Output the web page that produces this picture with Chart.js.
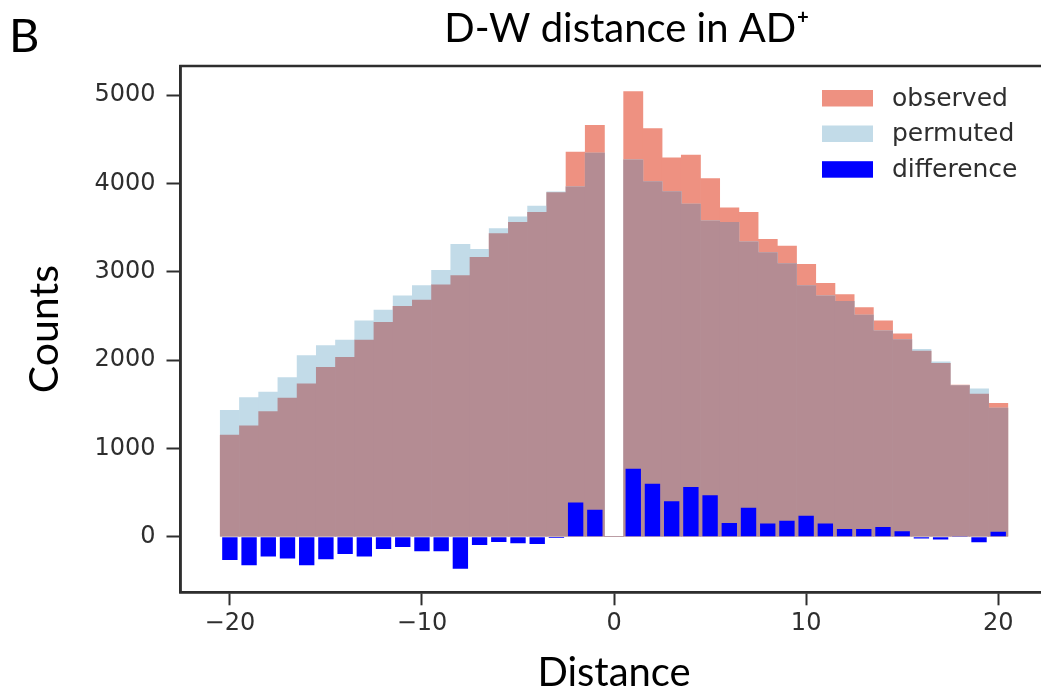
<!DOCTYPE html>
<html>
<head>
<meta charset="utf-8">
<script src="https://cdn.jsdelivr.net/npm/chart.js@4.4.1/dist/chart.umd.min.js"></script>
<style>
  html, body { margin: 0; padding: 0; background: #ffffff; overflow: hidden; }
  #wrap { width: 1041px; height: 694px; overflow: hidden; position: relative; }
  canvas { display: block; }
</style>
</head>
<body>
<div id="wrap"><canvas id="c" width="1050" height="694"></canvas></div>
<script>
// ---- data ----
const bins = [-20,-19,-18,-17,-16,-15,-14,-13,-12,-11,-10,-9,-8,-7,-6,-5,-4,-3,-2,-1,0,1,2,3,4,5,6,7,8,9,10,11,12,13,14,15,16,17,18,19,20];
const observed = [1150,1256,1416,1568,1732,1919,2032,2227,2426,2609,2679,2851,2956,3163,3432,3561,3674,3896,4356,4657,0,5039,4622,4290,4321,4056,3725,3674,3366,3292,3085,2870,2742,2594,2445,2297,2102,1962,1716,1615,1509];
const permuted = [1431,1576,1638,1802,2051,2165,2227,2445,2566,2726,2843,3015,3311,3253,3490,3623,3744,3904,3962,4345,0,4267,4021,3908,3767,3576,3561,3338,3218,3093,2843,2726,2664,2508,2332,2231,2122,1981,1711,1673,1455];
const difference = [-265,-324,-226,-246,-324,-257,-195,-226,-140,-117,-164,-164,-363,-94,-59,-74,-82,-16,386,304,0,768,600,402,562,468,156,328,148,179,238,148,86,86,109,62,-20,-31,8,-62,55];
const xTicks = [-20,-10,0,10,20];
const yTicks = [0,1000,2000,3000,4000,5000];
const seriesNames = ['observed','permuted','difference'];
const titleText = 'D-W distance in AD\u207A';
const panelLabel = 'B';

// ---- styles ----
const COL_OBS = '#EE9181';
const COL_PERM = '#C2DBE8';
const COL_OVER = '#B48C93';
const COL_DIFF = '#0000FF';
const AX = '#2e2e2e';

const overlap = observed.map((v, i) => Math.min(v, permuted[i]));
const pts = arr => bins.map((b, i) => ({ x: b, y: arr[i] }));

const fmt = v => (v < 0 ? '\u2212' + Math.abs(v) : String(v));

const framePlugin = {
  id: 'frame',
  afterDraw(chart) {
    const { ctx, chartArea: a } = chart;
    ctx.save();
    ctx.strokeStyle = AX;
    ctx.lineWidth = 2.5;
    ctx.strokeRect(a.left, a.top, a.right - a.left, a.bottom - a.top);
    ctx.restore();
  }
};

const extraTextPlugin = {
  id: 'extraText',
  afterDraw(chart) {
    const ctx = chart.ctx;
    ctx.save();
    ctx.textBaseline = 'alphabetic';
    // panel label
    ctx.fillStyle = '#000';
    ctx.font = '47px Lato';
    ctx.textAlign = 'left';
    ctx.fillText(panelLabel, 9, 52);
    // title
    ctx.font = '40px Lato';
    ctx.textAlign = 'center';
    ctx.fillText(titleText, 627, 41.5);
    // legend
    ctx.textAlign = 'left';
    const items = [
      { label: seriesNames[0], color: COL_OBS, cy: 98 },
      { label: seriesNames[1], color: COL_PERM, cy: 133.5 },
      { label: seriesNames[2], color: COL_DIFF, cy: 169.2 }
    ];
    ctx.font = '25px "DejaVu Sans"';
    items.forEach(it => {
      ctx.fillStyle = it.color;
      ctx.fillRect(822, it.cy - 8, 51, 16.5);
      ctx.fillStyle = AX;
      ctx.fillText(it.label, 892, it.cy + 7.5);
    });
    ctx.restore();
  }
};

new Chart(document.getElementById('c'), {
  type: 'bar',
  data: {
    datasets: [
      { label: seriesNames[0], data: pts(observed), backgroundColor: COL_OBS, order: 4, barPercentage: 1, categoryPercentage: 1 },
      { label: seriesNames[1], data: pts(permuted), backgroundColor: COL_PERM, order: 3, barPercentage: 1, categoryPercentage: 1 },
      { label: 'overlap', data: pts(overlap), backgroundColor: COL_OVER, order: 2, barPercentage: 1, categoryPercentage: 1 },
      { label: seriesNames[2], data: pts(difference), backgroundColor: COL_DIFF, order: 1, barPercentage: 0.8, categoryPercentage: 1 }
    ]
  },
  options: {
    responsive: false,
    animation: false,
    devicePixelRatio: 1,
    grouped: false,
    borderWidth: 0,
    layout: { padding: { top: 66, left: 0, right: 2.4, bottom: 0 } },
    plugins: {
      legend: { display: false },
      tooltip: { enabled: false },
      title: { display: false }
    },
    scales: {
      x: {
        type: 'linear',
        offset: false,
        min: -22.57,
        max: 22.57,
        afterBuildTicks: s => { s.ticks = xTicks.map(v => ({ value: v })); },
        afterFit: s => { s.height = 101.7; },
        ticks: { callback: v => fmt(v), color: AX, font: { family: 'DejaVu Sans', size: 24 }, padding: 4, maxRotation: 0 },
        grid: { display: true, drawOnChartArea: false, offset: false, tickLength: 13, tickColor: AX, tickWidth: 2 },
        border: { display: true, color: AX, width: 2.5 },
        title: { display: true, text: 'Distance', color: '#000', font: { family: 'Lato', size: 40, lineHeight: 1 }, padding: { top: 0, bottom: 1 } }
      },
      y: {
        type: 'linear',
        min: -630,
        max: 5330,
        afterBuildTicks: s => { s.ticks = yTicks.map(v => ({ value: v })); },
        afterFit: s => { s.width = 180.5; },
        ticks: { callback: v => fmt(v), color: AX, font: { family: 'DejaVu Sans', size: 24 }, padding: 11 },
        grid: { display: true, drawOnChartArea: false, tickLength: 14, tickColor: AX, tickWidth: 2 },
        border: { display: true, color: AX, width: 2.5 },
        title: { display: true, text: 'Counts', color: '#000', font: { family: 'Lato', size: 41, lineHeight: 1.2 }, padding: { top: 20, bottom: 0 } }
      }
    }
  },
  plugins: [framePlugin, extraTextPlugin]
});
</script>
</body>
</html>
